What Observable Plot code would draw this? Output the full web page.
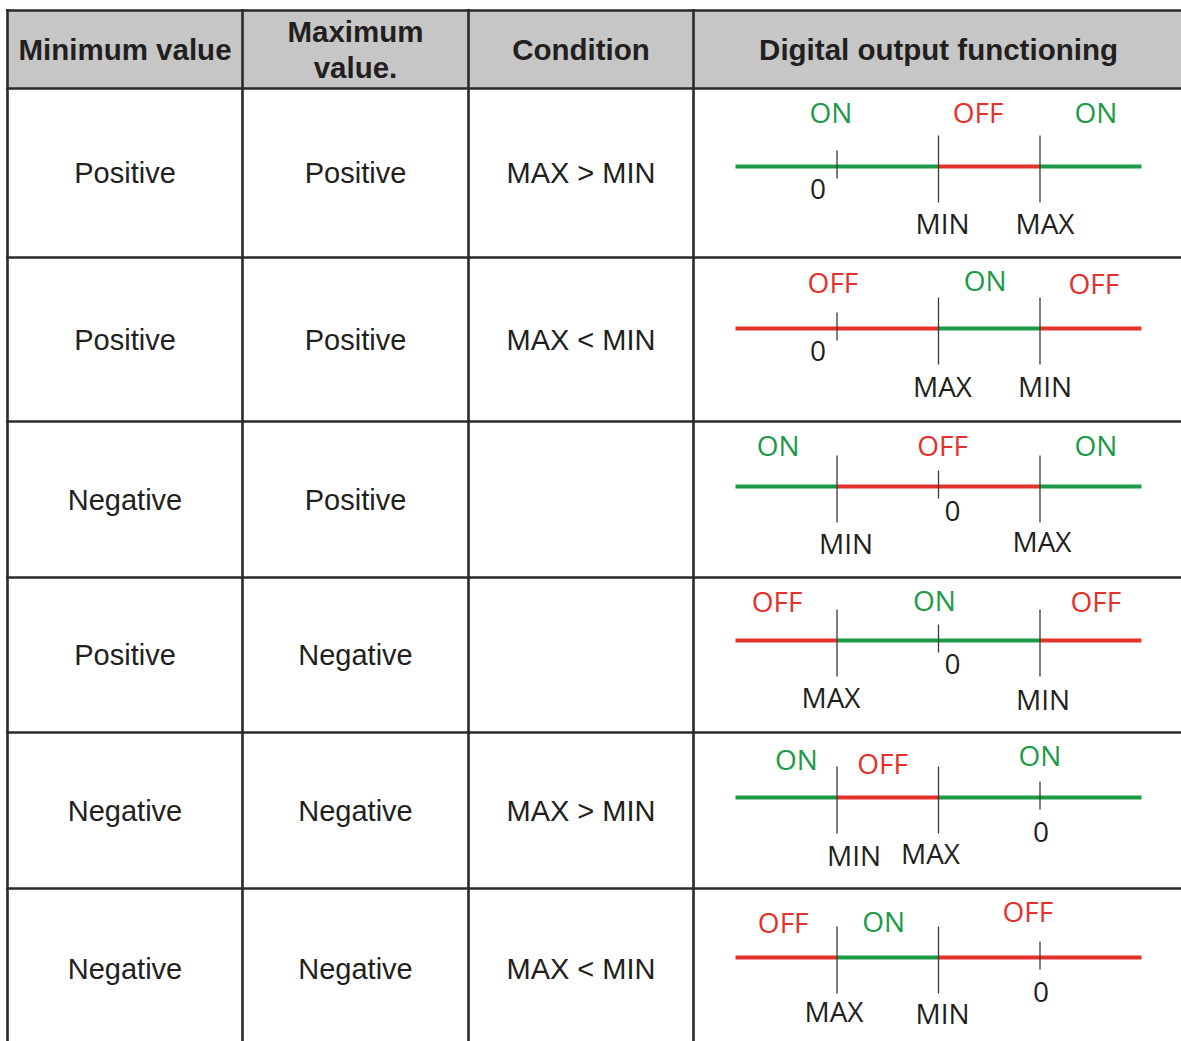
<!DOCTYPE html>
<html>
<head>
<meta charset="utf-8">
<script src="https://cdn.jsdelivr.net/npm/d3@7"></script>
<script src="https://cdn.jsdelivr.net/npm/@observablehq/plot@0.6"></script>
<style>
  html, body { margin: 0; padding: 0; background: #fff; overflow: hidden; }
  #chart svg { display: block; }
</style>
</head>
<body>
<div id="chart"></div>
<script>
// ---------------- DATA ----------------
const headers = ["Minimum value", "Maximum\nvalue.", "Condition", "Digital output functioning"];
const minValues = ["Positive", "Positive", "Negative", "Positive", "Negative", "Negative"];
const maxValues = ["Positive", "Positive", "Positive", "Negative", "Negative", "Negative"];
const conditions = ["MAX > MIN", "MAX < MIN", "", "", "MAX > MIN", "MAX < MIN"];
// thresholds in their order along the diagram axis (left to right)
const markerOrder = [
  ["0", "MIN", "MAX"],
  ["0", "MAX", "MIN"],
  ["MIN", "0", "MAX"],
  ["MAX", "0", "MIN"],
  ["MIN", "MAX", "0"],
  ["MAX", "MIN", "0"]
];
// output state of each of the four pieces of the axis
const segmentStates = [
  ["ON", "ON", "OFF", "ON"],
  ["OFF", "OFF", "ON", "OFF"],
  ["ON", "OFF", "OFF", "ON"],
  ["OFF", "ON", "ON", "OFF"],
  ["ON", "OFF", "ON", "ON"],
  ["OFF", "ON", "OFF", "OFF"]
];
// state words written above each zone
const zoneLabels = [
  ["ON", "OFF", "ON"],
  ["OFF", "ON", "OFF"],
  ["ON", "OFF", "ON"],
  ["OFF", "ON", "OFF"],
  ["ON", "OFF", "ON"],
  ["OFF", "ON", "OFF"]
];

// ---------------- LAYOUT (pixels, not data) ----------------
const colEdges = [7, 242, 468, 693, 1183];
const rowEdges = [10, 88, 257, 421, 577, 732, 888, 1048];
const axisLineY = [166, 328, 486, 640, 797, 957];
const axisUnit = d3.scaleLinear().domain([0, 4]).range([735, 1141]);
// zone label placement (axis units, offset from axis line)
const zoneLabelPos = [
  [[0.94, -52], [2.39, -52], [3.55, -52]],
  [[0.96, -44], [2.46, -46], [3.53, -43]],
  [[0.42, -39], [2.04, -39], [3.55, -39]],
  [[0.41, -37], [1.96, -38], [3.55, -37]],
  [[0.60, -36], [1.45, -32], [3.00, -40]],
  [[0.47, -33], [1.46, -34], [2.88, -44]]
];
// marker label placement (dx from tick, dy from axis line)
const markerLabelPos = [
  [[-19, 24], [4, 59], [5, 59]],
  [[-19, 24], [4, 60], [5, 60]],
  [[9, 59], [14, 26], [2, 57]],
  [[-6, 59], [14, 25], [3, 61]],
  [[17, 60], [-8, 58], [1, 36]],
  [[-3, 56], [4, 58], [1, 36]]
];

const GREEN = "#1c9a48";
const RED = "#e4312c";
const INK = "#231f20";
const BORDER = "#2a2a2a";
const tableFont = "'Liberation Sans', Arial, Helvetica, sans-serif";
const diagFont = "'Open Sans', 'Noto Sans', sans-serif";

// ---------------- TABLES BUILT FROM DATA ----------------
const nRows = minValues.length;
const colCenter = i => (colEdges[i] + colEdges[i + 1]) / 2;
const rowCenter = r => (rowEdges[r + 1] + rowEdges[r + 2]) / 2;

const cells = [];
for (let r = 0; r < nRows; r++) {
  cells.push({text: minValues[r], col: 0, row: r});
  cells.push({text: maxValues[r], col: 1, row: r});
  cells.push({text: conditions[r], col: 2, row: r});
}

const segments = [];
const ticks = [];
const markerLabels = [];
const zoneTexts = [];
for (let r = 0; r < nRows; r++) {
  segmentStates[r].forEach((s, k) => segments.push({row: r, from: k, to: k + 1, state: s}));
  markerOrder[r].forEach((m, k) => {
    const small = m === "0";
    ticks.push({row: r, pos: k + 1, up: small ? -16 : -31, down: small ? 12 : 36});
    markerLabels.push({row: r, pos: k + 1, text: m, dx: markerLabelPos[r][k][0], dy: markerLabelPos[r][k][1]});
  });
  zoneLabels[r].forEach((z, k) => zoneTexts.push({row: r, pos: zoneLabelPos[r][k][0], dy: zoneLabelPos[r][k][1], text: z}));
}

const chart = Plot.plot({
  width: 1181,
  height: 1041,
  margin: 0,
  x: {type: "identity", axis: null},
  y: {type: "identity", axis: null},
  color: {domain: ["ON", "OFF"], range: [GREEN, RED]},
  style: {background: "#ffffff"},
  marks: [
    // header band
    Plot.rect([headers], {x1: () => colEdges[0], x2: () => colEdges[4], y1: () => rowEdges[0], y2: () => rowEdges[1], fill: "#c6c6c6"}),
    // header text
    Plot.text(headers, {
      x: (d, i) => colCenter(i), y: () => (rowEdges[0] + rowEdges[1]) / 2 - 1,
      text: d => d, fontSize: 29.5, fontWeight: "bold", fontFamily: tableFont, fill: INK, lineHeight: 1.2
    }),
    // body text
    Plot.text(cells, {
      x: d => colCenter(d.col), y: d => rowCenter(d.row) + 1,
      text: "text", fontSize: 29, fontFamily: tableFont, fill: INK
    }),
    // diagram axis, coloured by output state
    Plot.link(segments, {
      x1: d => axisUnit(d.from), x2: d => axisUnit(d.to),
      y1: d => axisLineY[d.row], y2: d => axisLineY[d.row],
      stroke: "state", strokeWidth: 4.2, strokeLinecap: "butt"
    }),
    // threshold ticks
    Plot.link(ticks, {
      x1: d => axisUnit(d.pos), x2: d => axisUnit(d.pos),
      y1: d => axisLineY[d.row] + d.up, y2: d => axisLineY[d.row] + d.down,
      stroke: "#3a3a3a", strokeWidth: 1.3
    }),
    // threshold labels
    Plot.text(markerLabels, {
      x: d => axisUnit(d.pos) + d.dx, y: d => axisLineY[d.row] + d.dy,
      text: "text", fontSize: 28, fontFamily: diagFont, fill: INK
    }),
    // ON / OFF zone labels
    Plot.text(zoneTexts, {
      x: d => axisUnit(d.pos), y: d => axisLineY[d.row] + d.dy,
      text: "text", fill: "text", fontSize: 28, fontFamily: diagFont
    }),
    // grid: horizontal borders
    Plot.ruleY(rowEdges.slice(0, -1), {y: d => d, x1: () => colEdges[0] - 1, x2: () => colEdges[4], stroke: BORDER, strokeWidth: 2.6}),
    // grid: vertical borders
    Plot.ruleX(colEdges, {x: d => d, y1: () => rowEdges[0] - 1, y2: () => rowEdges[rowEdges.length - 1], stroke: BORDER, strokeWidth: 2.6})
  ]
});
document.getElementById("chart").appendChild(chart);
</script>
</body>
</html>
